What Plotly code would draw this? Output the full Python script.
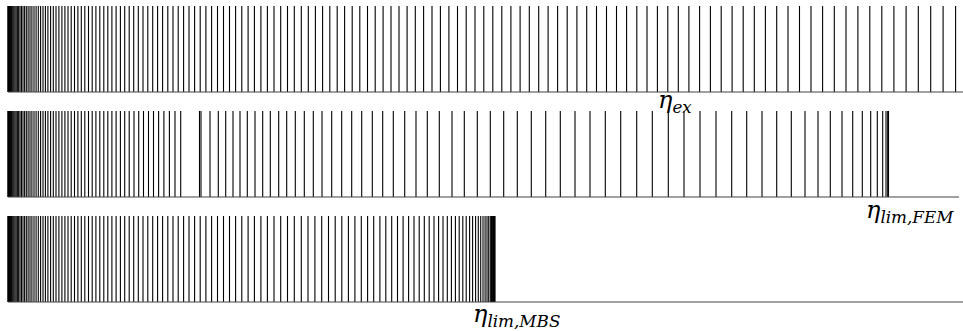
import plotly.graph_objects as go

# Eigenvalue positions (horizontal axis units)
eta_ex = [0.04, 0.17, 0.37, 0.66, 1.04, 1.5, 2.04, 2.66, 3.37, 4.16, 5.03, 5.98, 7.02, 8.15, 9.35,
          10.64, 12.01, 13.47, 15.0, 16.62, 18.3, 20.1, 22.0, 23.9, 26.0, 28.1, 30.3, 32.6, 35.0, 37.4,
          39.9, 42.6, 45.3, 48.0, 50.9, 53.9, 56.9, 60.0, 63.2, 66.5, 69.9, 73.3, 76.8, 80.5, 84.2,
          87.9, 91.8, 95.8, 99.8, 103.9, 108.1, 112.4, 116.7, 121.2, 125.7, 130.3, 135.0, 139.8, 144.7,
          149.6, 154.6, 159.8, 165.0, 170.2, 175.6, 181.0, 186.6, 192.2, 197.9, 203.6, 209.5, 215.5,
          221.5, 227.6, 233.8, 240.1, 246.4, 252.9, 259.4, 266.0, 272.7, 279.5, 286.3, 293.3, 300.3,
          307.4, 314.6, 321.8, 329.2, 336.6, 344.2, 351.8, 359.5, 367.2, 375.1, 383.0, 391.0, 399.1,
          407.3, 415.6, 424.0, 432.4, 440.9, 449.5, 458.2, 467.0, 475.8, 484.8, 493.8, 502.9, 512.1,
          521.3, 530.7, 540.1, 549.6, 559.2, 568.9, 578.7, 588.5, 598.5, 608.5, 618.6, 628.8, 639.0,
          649.4, 659.8, 670.3, 680.9, 691.6, 702.4, 713.2, 724.1, 735.2, 746.3, 757.4, 768.7, 780.0,
          791.5, 803.0, 814.6, 826.3, 838.0, 849.9, 861.8, 873.8, 885.9, 898.1, 910.3, 922.7, 935.1,
          947.6]

eta_fem = [0.04, 0.17, 0.37, 0.66, 1.04, 1.5, 2.04, 2.66, 3.37, 4.16, 5.03, 5.98, 7.02, 8.15, 9.35,
           10.64, 12.01, 13.47, 15.0, 16.62, 18.3, 20.1, 22.0, 23.9, 26.0, 28.1, 30.3, 32.6, 35.0, 37.4,
           39.9, 42.6, 45.3, 48.0, 50.9, 53.9, 56.9, 60.0, 63.2, 66.5, 69.9, 73.3, 76.8, 80.5, 84.2,
           87.9, 91.8, 95.8, 99.8, 103.9, 108.1, 112.4, 116.7, 121.2, 126.0, 130.7, 135.5, 140.5,
           145.5, 150.6, 155.9, 161.4, 167.0, 172.7,
           191.5, 193.0, 202.0, 210.3, 217.7, 225.0, 232.0, 239.3, 247.0, 254.7, 262.3, 270.7, 278.7,
           287.3, 296.3, 305.3, 314.0, 323.7, 333.7, 343.7, 353.7, 364.3, 374.7, 385.3, 396.7, 408.0,
           419.3, 431.3, 444.0, 456.3, 469.3, 482.3, 495.7, 509.3, 523.3, 537.7, 552.3, 567.0, 582.0,
           597.3, 612.7, 628.7, 644.3, 660.3, 676.0, 692.0, 708.0, 723.7, 738.7, 754.0, 768.7, 783.3,
           797.0, 810.0, 822.3, 834.0, 844.7, 854.3, 862.7, 869.3, 874.7, 878.0, 879.7, 880.5]

eta_mbs = [0.04, 0.17, 0.37, 0.66, 1.04, 1.5, 2.04, 2.66, 3.37, 4.16, 5.03, 5.98, 7.02, 8.15, 9.35,
           10.64, 12.01, 13.47, 15.0, 16.62, 18.3, 20.1, 22.0, 23.9, 26.0, 28.1, 30.3, 32.6, 35.0, 37.4,
           39.9, 42.6, 45.3, 48.0, 50.9, 53.9, 56.9, 60.0, 63.2, 66.5, 69.9, 73.3, 76.8, 80.5, 84.2,
           87.9, 91.8, 95.8, 99.8, 103.9, 108.1, 112.4, 116.7, 121.2, 125.7, 130.3, 135.0, 139.8, 144.7,
           149.6, 154.6, 159.8, 165.0, 170.2, 175.6, 181.0, 186.6, 192.2, 197.9, 203.6, 209.5, 215.5,
           221.5, 227.6, 233.8, 240.1, 246.4, 252.9, 259.4, 266.0, 272.7, 279.5, 286.3, 293.3,
           300.0, 306.9, 313.7, 320.5, 327.2, 333.8, 340.4, 346.9, 353.3, 359.6, 365.7, 371.9, 377.8,
           383.7, 389.5, 395.1, 400.6, 406.0, 411.2, 416.3, 421.2, 426.0, 430.6, 435.0, 439.3, 443.4,
           447.4, 451.2, 454.8, 458.2, 461.6, 464.6, 467.6, 470.3, 472.7, 475.0, 477.1, 479.0, 480.7,
           482.3, 483.5, 484.6, 485.5, 486.2, 486.7, 486.9]

axis_end = [955, 951, 955]
labels = ["<i>η</i><sub><i>ex</i></sub>",
          "<i>η</i><sub><i>lim,FEM</i></sub>",
          "<i>η</i><sub><i>lim,MBS</i></sub>"]
label_x = [667, 902, 508]
label_y = [0.693, 0.36, 0.048]

W, H = 963, 331


def spikes(vals):
    xs, ys = [], []
    for v in vals:
        xs += [v, v, None]
        ys += [0, 1, None]
    return xs, ys


fig = go.Figure()
yrefs = ["y", "y2", "y3"]
for vals, ya, end in zip([eta_ex, eta_fem, eta_mbs], yrefs, axis_end):
    xs, ys = spikes(vals)
    fig.add_trace(go.Scatter(x=xs, y=ys, mode="lines", yaxis=ya,
                             line=dict(color="black", width=1.1),
                             hoverinfo="skip", showlegend=False))
    fig.add_trace(go.Scatter(x=[0, end], y=[0, 0], mode="lines", yaxis=ya,
                             line=dict(color="#444444", width=1.2),
                             hoverinfo="skip", showlegend=False))

# pixel rows: (top, bottom) of the plotting band incl. 3px padding
bands = [(3, 95), (108, 200), (213, 305)]
pad = 3 / 86
yaxes = {}
for i, (top, bot) in enumerate(bands):
    key = "yaxis" if i == 0 else f"yaxis{i+1}"
    yaxes[key] = dict(domain=[1 - bot / H, 1 - top / H], range=[-pad, 1 + pad],
                      visible=False, fixedrange=True, anchor="x")

for txt, lx, ly in zip(labels, label_x, label_y):
    fig.add_annotation(text=txt, x=lx, xref="x", y=ly, yref="paper",
                       xanchor="center", yanchor="middle", showarrow=False,
                       font=dict(family="DejaVu Serif", size=24, color="black"))

fig.update_layout(
    width=W, height=H,
    margin=dict(l=0, r=0, t=0, b=0),
    paper_bgcolor="white", plot_bgcolor="white",
    xaxis=dict(domain=[6 / W, 1], range=[-2, 955], visible=False, fixedrange=True),
    **yaxes,
)

fig.write_html("out.html", config={"displayModeBar": False},
               post_script="document.body.style.margin='0';document.body.style.padding='0';")
